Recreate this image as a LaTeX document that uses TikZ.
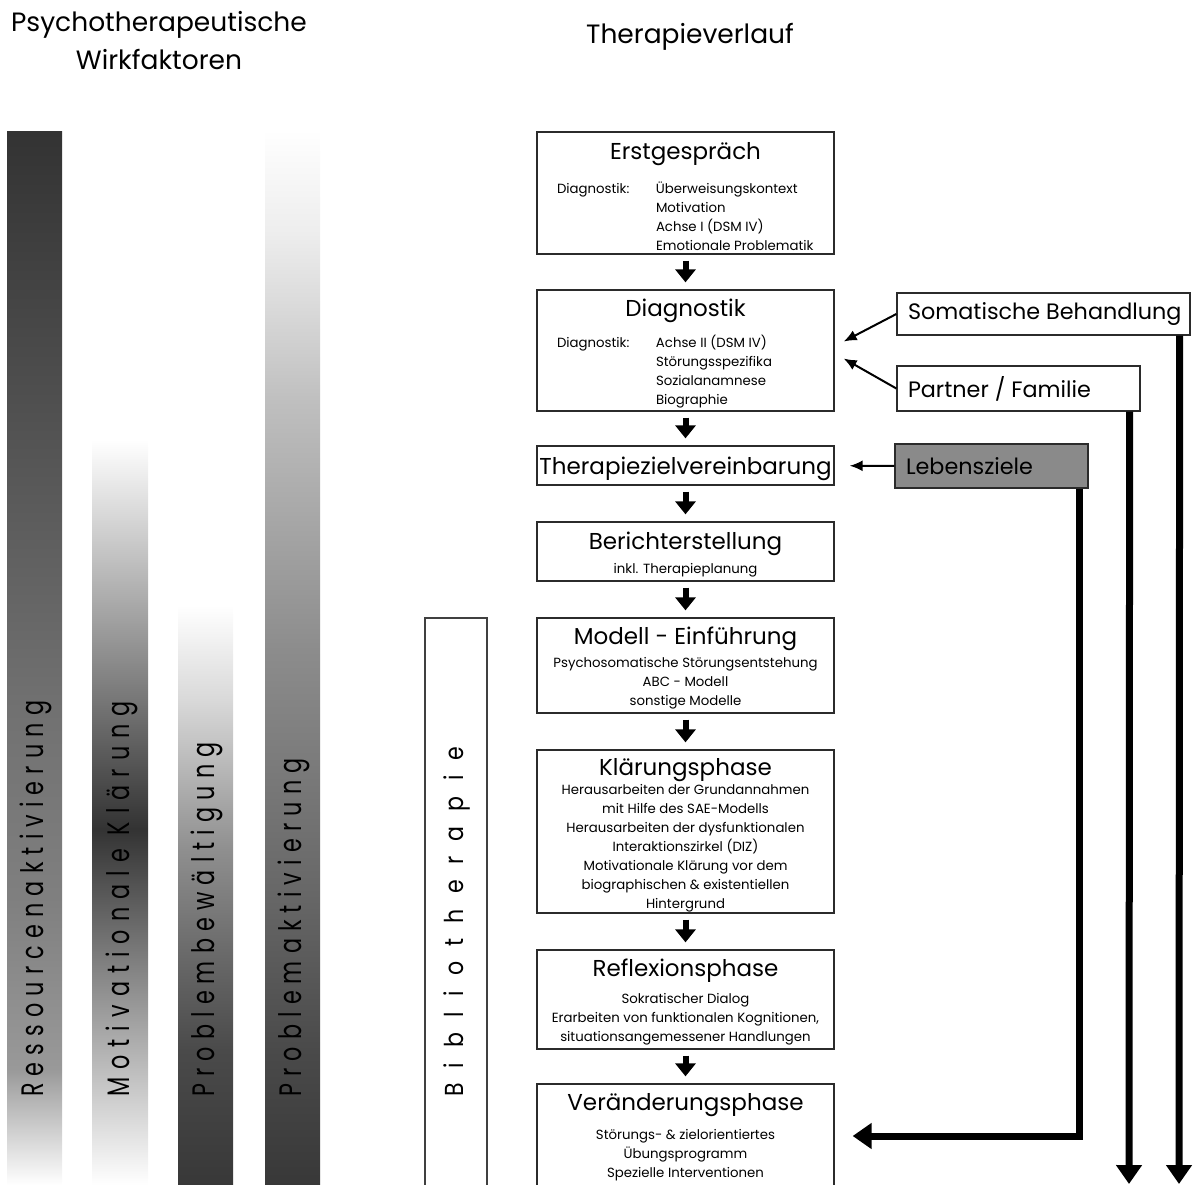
\documentclass[tikz,border=0pt]{standalone}
\usepackage{graphicx}
\usepackage{fontspec}
\setmainfont{Poppins}
\newfontfamily\barfont[LetterSpace=32]{Poppins}
\newfontfamily\bibfont[LetterSpace=69]{Poppins}
\usetikzlibrary{arrows.meta}
\newcommand\headfont{\fontsize{26.5}{38}\selectfont}
\newcommand\phasetitle{\fontsize{23}{26}\selectfont}
\newcommand\phasetext{\fontsize{13.3}{19}\selectfont}
\newcommand\sidefont{\fontsize{22.3}{26}\selectfont}
\definecolor{boxline}{HTML}{2B2B2B}
\definecolor{lebgray}{HTML}{8A8A8A}
\pgfdeclareverticalshading{ressourcen}{100bp}{color(0bp)=(white); color(25bp)=(white); color(30.5bp)=(black!40); color(38.5bp)=(black!50); color(48bp)=(black!56); color(62.3bp)=(black!69); color(75bp)=(black!80); color(100bp)=(black!80)}
\pgfdeclareverticalshading{motivation}{100bp}{color(0bp)=(white); color(25bp)=(white); color(48.9bp)=(black!80); color(75bp)=(white); color(100bp)=(white)}
\pgfdeclareverticalshading{bewaeltigung}{100bp}{color(0bp)=(black!78); color(25bp)=(black!78); color(36.6bp)=(black!71); color(45.3bp)=(black!58); color(53.9bp)=(black!44); color(66.8bp)=(black!15); color(75bp)=(white); color(100bp)=(white)}
\pgfdeclareverticalshading{aktivierung}{100bp}{color(0bp)=(black!78); color(25bp)=(black!78); color(31.4bp)=(black!71); color(38.5bp)=(black!60); color(50.4bp)=(black!45); color(62.2bp)=(black!25); color(66.9bp)=(black!14); color(70.1bp)=(black!7); color(75bp)=(white); color(100bp)=(white)}
\begin{document}
\begin{tikzpicture}[x=1pt,y=-1pt,
    phase/.style={draw=boxline, line width=1.3pt, fill=white, inner sep=0pt},
    side/.style={draw=boxline, line width=1.3pt, fill=white, inner xsep=11pt, inner ysep=0pt, font=\sidefont},
    flow/.style={line width=6pt, -{Triangle[width=20pt,length=13pt]}, shorten <=6pt, shorten >=7pt},
    feed/.style={line width=2pt, -{Latex[length=13pt,width=11pt]}},
    big/.style={line width=7pt, -{Triangle[width=25pt,length=19pt]}},
    barlabel/.style={rotate=90, anchor=west, inner sep=0pt, text=black, font=\barfont\fontsize{31}{31}\selectfont}]
    \path[use as bounding box] (0,0) rectangle (1197,1185);
    \clip (0,0) rectangle (1197,1185);

    \node[font=\headfont, align=center] (wirk) at (159,41) {Psychotherapeutische\\Wirkfaktoren};
    \node[font=\headfont] (verlauf) at (690,37) {Therapieverlauf};

    \shade[shading=ressourcen] (7,132) rectangle (62,1185);
    \shade[shading=motivation] (92,440) rectangle (148,1185);
    \shade[shading=bewaeltigung] (178,605) rectangle (233,1185);
    \shade[shading=aktivierung] (265,130) rectangle (320,1185);
    \node[barlabel] (resslab) at (36,1097) {\scalebox{0.72}[1]{Ressourcenaktivierung}};
    \node[barlabel] (motlab) at (122,1097) {\scalebox{0.72}[1]{\addfontfeature{LetterSpace=36}Motivationale Klärung}};
    \node[barlabel] (bewlab) at (207,1097) {\scalebox{0.72}[1]{Problembewältigung}};
    \node[barlabel] (aktlab) at (294,1097) {\scalebox{0.72}[1]{Problemaktivierung}};

    \node[draw=black!75, line width=2pt, fill=white, minimum width=62pt, minimum height=580pt, inner sep=0pt] (bibbox) at (456,908) {};
    \node[barlabel, font=\bibfont\fontsize{26}{26}\selectfont] (biblab) at (457,1097) {\scalebox{0.85}[1]{Bibliotherapie}};

    \node[phase] (erst) at (685.5,193) {\parbox[c][122pt][t]{297pt}{\centering\phasetext
        \rule{0pt}{28pt}{\phasetitle Erstgespräch}\\[13pt]
        \makebox[257pt][l]{\begin{tabular}[t]{@{}p{99pt}@{}l@{}}Diagnostik: & Überweisungskontext\\ & Motivation\\ & Achse I (DSM IV)\\ & Emotionale Problematik\end{tabular}}}};
    \node[phase] (diag) at (685.5,350.5) {\parbox[c][121pt][t]{297pt}{\centering\phasetext
        \rule{0pt}{26pt}{\phasetitle Diagnostik}\\[11pt]
        \makebox[257pt][l]{\begin{tabular}[t]{@{}p{99pt}@{}l@{}}Diagnostik: & Achse II (DSM IV)\\ & Störungsspezifika\\ & Sozialanamnese\\ & Biographie\end{tabular}}}};
    \node[phase] (ziel) at (685.5,465.5) {\parbox[c][39pt][t]{297pt}{\centering\phasetext
        \rule{0pt}{28pt}{\phasetitle Therapiezielvereinbarung}}};
    \node[phase] (bericht) at (685.5,551.5) {\parbox[c][59pt][t]{297pt}{\centering\phasetext
        \rule{0pt}{27pt}{\phasetitle Berichterstellung}\\[5pt]
        inkl. Therapieplanung}};
    \node[phase] (modell) at (685.5,665.5) {\parbox[c][95pt][t]{297pt}{\centering\phasetext
        \rule{0pt}{26pt}{\phasetitle Modell - Einführung}\\[4pt]
        Psychosomatische Störungsentstehung\\
        ABC - Modell\\
        sonstige Modelle}};
    \node[phase] (klaer) at (685.5,831.5) {\parbox[c][163pt][t]{297pt}{\centering\phasetext
        \rule{0pt}{25pt}{\phasetitle Klärungsphase}\\
        Herausarbeiten der Grundannahmen\\
        mit Hilfe des SAE-Modells\\
        Herausarbeiten der dysfunktionalen\\
        Interaktionszirkel (DIZ)\\
        Motivationale Klärung vor dem\\
        biographischen \& existentiellen\\
        Hintergrund}};
    \node[phase] (refl) at (685.5,999.5) {\parbox[c][99pt][t]{297pt}{\centering\phasetext
        \rule{0pt}{26pt}{\phasetitle Reflexionsphase}\\[8pt]
        Sokratischer Dialog\\
        Erarbeiten von funktionalen Kognitionen,\\
        situationsangemessener Handlungen}};
    \node[phase] (ver) at (685.5,1144) {\parbox[c][120pt][t]{297pt}{\centering\phasetext
        \rule{0pt}{26pt}{\phasetitle Veränderungsphase}\\[10pt]
        Störungs- \& zielorientiertes\\
        Übungsprogramm\\
        Spezielle Interventionen}};

    \draw[flow] (erst) -- (diag);
    \draw[flow] (diag) -- (ziel);
    \draw[flow] (ziel) -- (bericht);
    \draw[flow] (bericht) -- (modell);
    \draw[flow] (modell) -- (klaer);
    \draw[flow] (klaer) -- (refl);
    \draw[flow] (refl) -- (ver);

    \node[side, minimum height=42pt] (soma) at (1043.5,314) {\makebox[271pt][l]{Somatische Behandlung}};
    \node[side, minimum height=45pt] (part) at (1018.5,388.5) {\makebox[221pt][l]{Partner / Familie}};
    \node[side, fill=lebgray, minimum height=44pt] (leb) at (991.5,466) {\makebox[171pt][l]{Lebensziele}};

    \draw[feed] (soma.west) -- ([xshift=9pt,yshift=9pt]diag.east);
    \draw[feed] (part.west) -- ([xshift=9pt,yshift=-8pt]diag.east);
    \draw[feed, shorten >=15pt] (leb) -- (ziel);

    \coordinate (partout) at (1129,1184);
    \coordinate (somaout) at (1179,1184);
    \draw[big] ([xshift=-9pt]leb.south east) |- ([xshift=18pt,yshift=8pt]ver.east);
    \draw[big] ([xshift=-11pt]part.south east) -- (partout);
    \draw[big] ([xshift=-11pt]soma.south east) -- (somaout);
\end{tikzpicture}
\end{document}
